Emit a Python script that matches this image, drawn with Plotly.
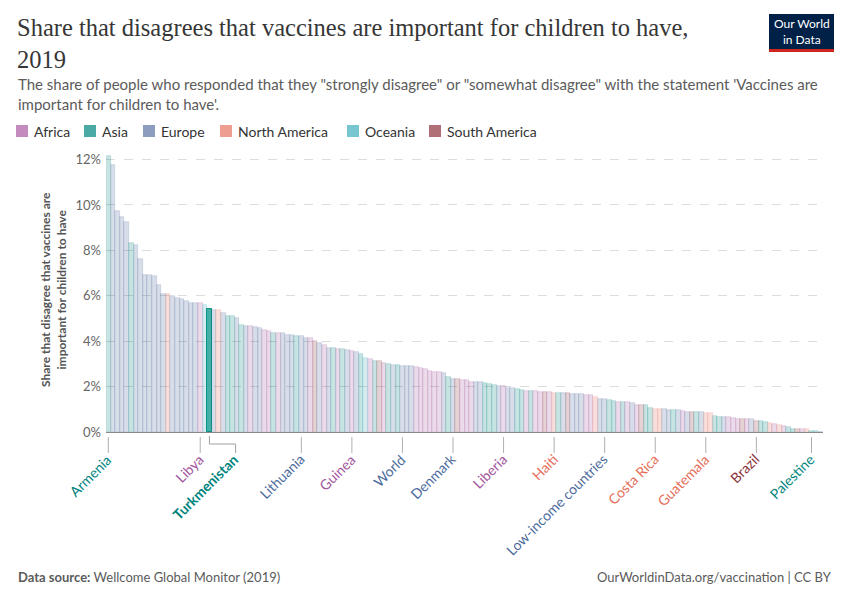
import plotly.graph_objects as go

# ---------------- data ----------------
values = [
    12.15, 11.78, 9.75, 9.45, 9.23, 8.32, 8.23, 7.60, 6.92, 6.92,
    6.87, 6.46, 6.09, 6.06, 5.99, 5.91, 5.84, 5.77, 5.68, 5.66,
    5.66, 5.60, 5.40, 5.39, 5.37, 5.22, 5.13, 5.10, 5.00, 4.73,
    4.68, 4.65, 4.62, 4.59, 4.48, 4.45, 4.38, 4.35, 4.34, 4.29,
    4.28, 4.25, 4.23, 4.16, 4.12, 4.00, 3.92, 3.82, 3.72, 3.70,
    3.67, 3.65, 3.62, 3.57, 3.53, 3.44, 3.27, 3.21, 3.13, 3.11,
    3.05, 3.01, 2.96, 2.93, 2.92, 2.92, 2.91, 2.86, 2.82, 2.76,
    2.70, 2.64, 2.63, 2.59, 2.43, 2.35, 2.35, 2.31, 2.29, 2.21,
    2.21, 2.20, 2.15, 2.11, 2.08, 2.02, 2.02, 1.96, 1.92, 1.89,
    1.87, 1.82, 1.82, 1.81, 1.78, 1.77, 1.74, 1.73, 1.73, 1.71,
    1.70, 1.68, 1.68, 1.67, 1.65, 1.62, 1.55, 1.47, 1.46, 1.39,
    1.37, 1.34, 1.31, 1.30, 1.28, 1.19, 1.18, 1.18, 1.05, 1.02,
    1.02, 1.00, 0.99, 0.99, 0.97, 0.93, 0.90, 0.89, 0.89, 0.87,
    0.84, 0.84, 0.71, 0.67, 0.66, 0.65, 0.63, 0.59, 0.58, 0.58,
    0.57, 0.49, 0.47, 0.44, 0.38, 0.35, 0.29, 0.26, 0.23, 0.15,
    0.13, 0.13, 0.12, 0.05, 0.03, 0.01,
]
continents = [
    "AS", "EU", "EU", "EU", "EU", "AS", "EU", "EU", "EU", "EU",
    "EU", "EU", "EU", "NA", "EU", "EU", "EU", "EU", "EU", "EU",
    "AF", "OC", "AS", "EU", "NA", "EU", "AS", "AS", "EU", "AS",
    "EU", "AF", "EU", "EU", "AF", "AF", "AS", "AF", "EU", "EU",
    "EU", "AS", "EU", "EU", "AF", "SA", "EU", "AF", "EU", "AS",
    "AF", "AS", "EU", "AF", "EU", "AS", "OC", "AF", "AS", "SA",
    "AF", "AS", "EU", "AS", "EU", "EU", "EU", "AF", "AF", "AF",
    "AF", "AF", "AF", "EU", "AS", "EU", "SA", "AF", "AF", "AF",
    "EU", "EU", "AS", "AS", "AS", "EU", "AF", "EU", "EU", "AS",
    "AS", "AF", "AS", "AF", "AF", "SA", "AF", "NA", "AS", "EU",
    "SA", "EU", "EU", "EU", "AF", "AF", "NA", "EU", "EU", "AS",
    "AS", "AF", "AS", "AF", "EU", "AF", "SA", "AS", "AS", "NA",
    "NA", "EU", "EU", "AS", "EU", "AF", "EU", "SA", "AS", "EU",
    "NA", "NA", "AS", "AS", "EU", "AF", "AF", "AF", "SA", "AF",
    "EU", "SA", "AS", "AS", "NA", "AF", "NA", "AF", "AS", "AS",
    "SA", "AF", "NA", "AS", "AS", "EU",
]
label_index = [0, 20, 22, 42, 53, 64, 75, 86, 97, 108, 119, 130, 141, 153]
label_text = ["Armenia", "Libya", "Turkmenistan", "Lithuania", "Guinea", "World",
              "Denmark", "Liberia", "Haiti", "Low-income countries", "Costa Rica",
              "Guatemala", "Brazil", "Palestine"]
highlight = 22  # Turkmenistan

legend_names = ["Africa", "Asia", "Europe", "North America", "Oceania", "South America"]
legend_codes = ["AF", "AS", "EU", "NA", "OC", "SA"]
y_ticks = [0, 2, 4, 6, 8, 10, 12]
y_tick_text = ["0%", "2%", "4%", "6%", "8%", "10%", "12%"]

# ---------------- style ----------------
base_rgb = {
    "AF": (162, 85, 156),
    "AS": (0, 132, 126),
    "EU": (76, 106, 156),
    "NA": (229, 110, 90),
    "OC": (56, 170, 186),
    "SA": (136, 48, 57),
}
swatch = {
    "AF": "#c38bbe", "AS": "#4caaa5", "EU": "#8c9dc0",
    "NA": "#ee9e90", "OC": "#77c6d0", "SA": "#b06f76",
}
label_col = {
    "AF": "#a2559c", "AS": "#00847e", "EU": "#4c6a9c",
    "NA": "#e56e5a", "OC": "#38aaba", "SA": "#883039",
}

W, H = 850, 600
L, R, T, B = 106, 823, 155, 432
YMAX = 12.2


def px(xp):
    return (xp - L) / (R - L)


def py(yp):
    return (B - yp) / (B - T)


n = len(values)
fills, lines, lws = [], [], []
for i, c in enumerate(continents):
    r, g, b = base_rgb[c]
    if i == highlight:
        fills.append("#43b0a6")
        lines.append("#0a8f86")
        lws.append(1.0)
    else:
        fills.append(f"rgba({r},{g},{b},0.22)")
        lines.append(f"rgba({r},{g},{b},0.30)")
        lws.append(0.6)

fig = go.Figure()
fig.add_trace(go.Bar(
    x=list(range(n)), y=values,
    marker=dict(color=fills, line=dict(color=lines, width=lws)),
    showlegend=False, hoverinfo="skip",
))

fig.update_layout(
    width=W, height=H,
    margin=dict(l=L, r=W - R, t=T, b=H - B, pad=0),
    paper_bgcolor="white", plot_bgcolor="white",
    bargap=0,
    font=dict(family="Lato", color="#5b5b5b"),
    xaxis=dict(range=[-0.5, n - 0.5], showticklabels=False, ticks="",
               showgrid=False, zeroline=False, showline=True,
               linecolor="#8a8a8a", linewidth=1, fixedrange=True),
    yaxis=dict(range=[0, YMAX], tickvals=y_ticks, ticktext=y_tick_text,
               showgrid=True, gridcolor="#dcdcdc", griddash="dash", gridwidth=1,
               zeroline=False, showline=False, ticks="",
               tickfont=dict(family="Lato", size=13, color="#666666"),
               ticklabelstandoff=4, fixedrange=True),
)

ann = []
shapes = []

# title
ann.append(dict(text="Share that disagrees that vaccines are important for children to have,<br>2019",
                x=px(15), y=py(12), xref="paper", yref="paper", xanchor="left", yanchor="top",
                align="left", showarrow=False,
                font=dict(family="Liberation Serif", size=24.5, color="#363636")))
# subtitle
ann.append(dict(text="The share of people who responded that they \"strongly disagree\" or \"somewhat disagree\" with the statement 'Vaccines are<br>important for children to have'.",
                x=px(16), y=py(73), xref="paper", yref="paper", xanchor="left", yanchor="top",
                align="left", showarrow=False,
                font=dict(family="Lato", size=15, color="#5b5b5b")))

# legend
leg_x = [16, 84, 143, 220, 347, 429]
for xs, name, code in zip(leg_x, legend_names, legend_codes):
    shapes.append(dict(type="rect", xref="paper", yref="paper",
                       x0=px(xs), x1=px(xs + 12), y0=py(125), y1=py(137),
                       fillcolor=swatch[code], line=dict(width=0)))
    ann.append(dict(text=name, x=px(xs + 16), y=py(131), xref="paper", yref="paper",
                    xanchor="left", yanchor="middle", showarrow=False,
                    font=dict(family="Lato", size=14, color="#333333")))

# logo
shapes.append(dict(type="rect", xref="paper", yref="paper", x0=px(769), x1=px(834),
                   y0=py(52), y1=py(14), fillcolor="#002147", line=dict(width=0)))
shapes.append(dict(type="rect", xref="paper", yref="paper", x0=px(769), x1=px(834),
                   y0=py(52), y1=py(49), fillcolor="#ce261e", line=dict(width=0)))
ann.append(dict(text="Our World<br>in Data", x=px(801.5), y=py(32), xref="paper", yref="paper",
                xanchor="center", yanchor="middle", showarrow=False, align="center",
                font=dict(family="Lato", size=12, color="white")))

# y-axis title
ann.append(dict(text="<b>Share that disagree that vaccines are<br>important for children to have</b>",
                x=px(53), y=py(290), xref="paper", yref="paper", textangle=-90,
                xanchor="center", yanchor="middle", showarrow=False, align="center",
                font=dict(family="Lato", size=12, color="#555555")))

# x labels
for idx, name in zip(label_index, label_text):
    col = label_col[continents[idx]]
    if idx == highlight:
        shapes.append(dict(type="path", xref="x", yref="paper",
                           path=f"M {idx},{py(436)} L {idx},{py(444)} L {idx + 5.7},{py(444)} L {idx + 5.7},{py(453)}",
                           line=dict(color="#a0a0a0", width=1)))
        ann.append(dict(text=f"<b>{name}</b>", x=idx + 5.7, y=py(448), xref="x", yref="paper",
                        xshift=9, textangle=-45, xanchor="right", yanchor="top",
                        showarrow=False, font=dict(family="Lato", size=14, color=col)))
    else:
        shapes.append(dict(type="line", xref="x", yref="paper", x0=idx, x1=idx,
                           y0=py(437), y1=py(453), line=dict(color="#b0b0b0", width=1)))
        ann.append(dict(text=name, x=idx, y=py(448), xref="x", yref="paper",
                        xshift=9, textangle=-45, xanchor="right", yanchor="top",
                        showarrow=False, font=dict(family="Lato", size=14, color=col)))

# footer
ann.append(dict(text="<b>Data source:</b> Wellcome Global Monitor (2019)",
                x=px(16), y=py(577), xref="paper", yref="paper", xanchor="left", yanchor="middle",
                showarrow=False, font=dict(family="Lato", size=13, color="#5b5b5b")))
ann.append(dict(text="OurWorldinData.org/vaccination | CC BY",
                x=px(834), y=py(577), xref="paper", yref="paper", xanchor="right", yanchor="middle",
                showarrow=False, font=dict(family="Lato", size=13, color="#5b5b5b")))

fig.update_layout(annotations=ann, shapes=shapes)
fig.write_html("out.html", config={"displayModeBar": False},
               post_script="document.body.style.margin='0';document.body.style.overflow='hidden';")
